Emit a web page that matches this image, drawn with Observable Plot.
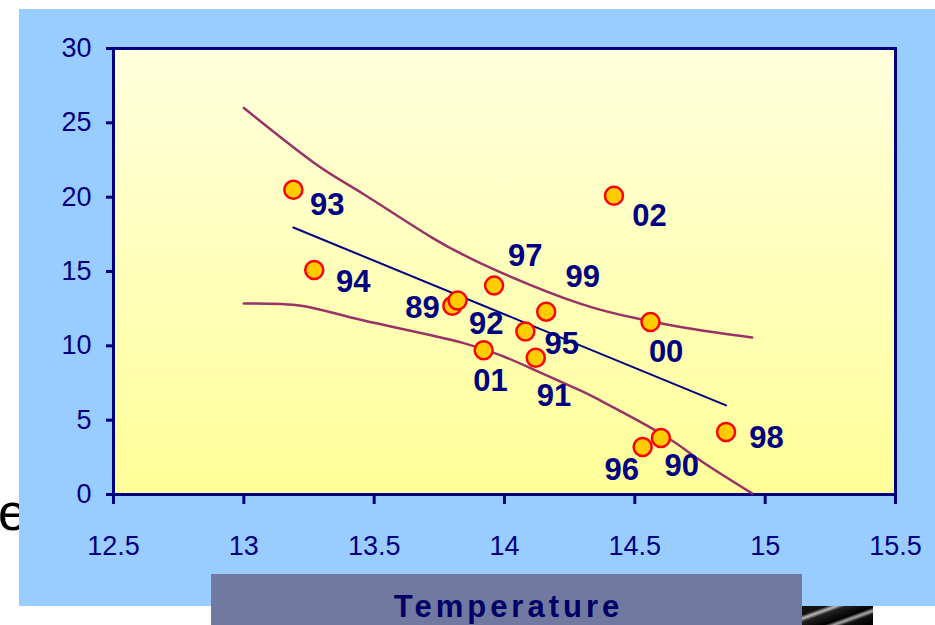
<!DOCTYPE html>
<html><head><meta charset="utf-8">
<script src="https://cdn.jsdelivr.net/npm/d3@7"></script>
<script src="https://cdn.jsdelivr.net/npm/@observablehq/plot@0.6"></script>
<style>
html,body{margin:0;padding:0;background:#fff;overflow:hidden}
#wrap{position:relative;width:935px;height:625px;overflow:hidden}
#e{position:absolute;left:-2px;top:486px;font:52px/52px "Liberation Sans",Arial,sans-serif;color:#000}
#panel{position:absolute;left:19px;top:9px;width:916px;height:597px;background:#99CCFF}
#chart{position:absolute;left:0;top:0}
#xtitle{position:absolute;left:211px;top:574px;width:591px;height:51px;background:#7179A1;
  color:#000066;font:bold 31px/31px "Liberation Sans",Arial,sans-serif;letter-spacing:4px;text-align:center;
  box-sizing:border-box;padding-top:17px;padding-left:4px}
#photo{position:absolute;left:802px;top:606px;width:71px;height:19px;
  background:linear-gradient(160deg,#111 0%,#111 20%,#bbb 28%,#222 36%,#000 60%,#aaa 68%,#111 76%,#000 100%)}
</style></head><body>
<div id="wrap">
  <div id="e">e</div>
  <div id="panel"></div>
  <div id="chart"></div>
  <div id="xtitle">Temperature</div>
  <div id="photo"></div>
</div>
<script>
// data
const years       = ["93","94","89","92","97","99","01","95","91","02","00","96","90","98"];
const temperature = [13.19,13.27,13.80,13.82,13.96,14.16,13.92,14.08,14.12,14.42,14.56,14.53,14.60,14.85];
const values      = [20.5,15.1,12.7,13.05,14.05,12.3,9.7,10.96,9.2,20.1,11.6,3.2,3.8,4.2];
// label anchor positions (data units)
const labelX      = [13.32,13.42,13.685,13.93,14.08,14.30,13.946,14.22,14.19,14.556,14.62,14.45,14.68,15.005];
const labelY      = [19.45,14.3,12.55,11.45,16.05,14.6,7.6,10.1,6.6,18.7,9.6,1.65,1.9,3.8];
// regression line
const fitX = [13.19,14.85];
const fitY = [17.96,5.99];
// confidence band curves
const upperX = [13.0,13.27,13.46,13.72,13.97,14.29,14.52,14.71,14.95];
const upperY = [26.0,22.3,20.2,17.3,15.06,12.84,11.8,11.16,10.56];
const lowerX = [13.0,13.22,13.46,13.84,14.10,14.29,14.37,14.60,14.75,14.95];
const lowerY = [12.85,12.7,11.7,10.2,8.5,7.0,6.3,4.1,2.3,0.07];
const xTicks = [12.5,13,13.5,14,14.5,15,15.5];
const yTicks = [0,5,10,15,20,25,30];

const points = years.map((y,i)=>({year:y,x:temperature[i],y:values[i],lx:labelX[i],ly:labelY[i]}));
const fit = fitX.map((x,i)=>({x,y:fitY[i]}));
const upper = upperX.map((x,i)=>({x,y:upperY[i]}));
const lower = lowerX.map((x,i)=>({x,y:lowerY[i]}));

const chart = Plot.plot({
  width:935, height:625,
  marginLeft:113, marginRight:40, marginTop:48, marginBottom:131,
  style:{background:"transparent", fontFamily:"'Liberation Sans', Arial, sans-serif", color:"#000080", overflow:"visible"},
  x:{domain:[12.5,15.5]},
  y:{domain:[0,30]},
  marks:[
    Plot.frame({fill:"url(#plotBg)", stroke:"#000080", strokeWidth:3}),
    Plot.axisY({ticks:yTicks, tickSize:7, tickPadding:15, fontSize:27, tickFormat:d=>String(d), label:null, strokeWidth:3}),
    Plot.axisX({ticks:xTicks, tickSize:10, tickPadding:31, fontSize:27, tickFormat:d=>String(d), label:null, strokeWidth:3}),
    Plot.line(upper, {x:"x", y:"y", curve:"natural", stroke:"#993366", strokeWidth:2.5}),
    Plot.line(lower, {x:"x", y:"y", curve:"natural", stroke:"#993366", strokeWidth:2.5}),
    Plot.line(fit, {x:"x", y:"y", stroke:"#000080", strokeWidth:2}),
    Plot.dot(points, {x:"x", y:"y", r:9, fill:"#FFCC00", stroke:"#FF0000", strokeWidth:2.5}),
    Plot.text(points, {x:"lx", y:"ly", text:"year", fontSize:31, fontWeight:"bold", fill:"#000080", lineAnchor:"middle"})
  ]
});
d3.select(chart).insert("defs", ":first-child").html(
  '<linearGradient id="plotBg" x1="0" y1="0" x2="0" y2="1">' +
  '<stop offset="0" stop-color="#FFFFDD"/><stop offset="1" stop-color="#FFFF99"/></linearGradient>');
document.getElementById("chart").appendChild(chart);
</script>
</body></html>
